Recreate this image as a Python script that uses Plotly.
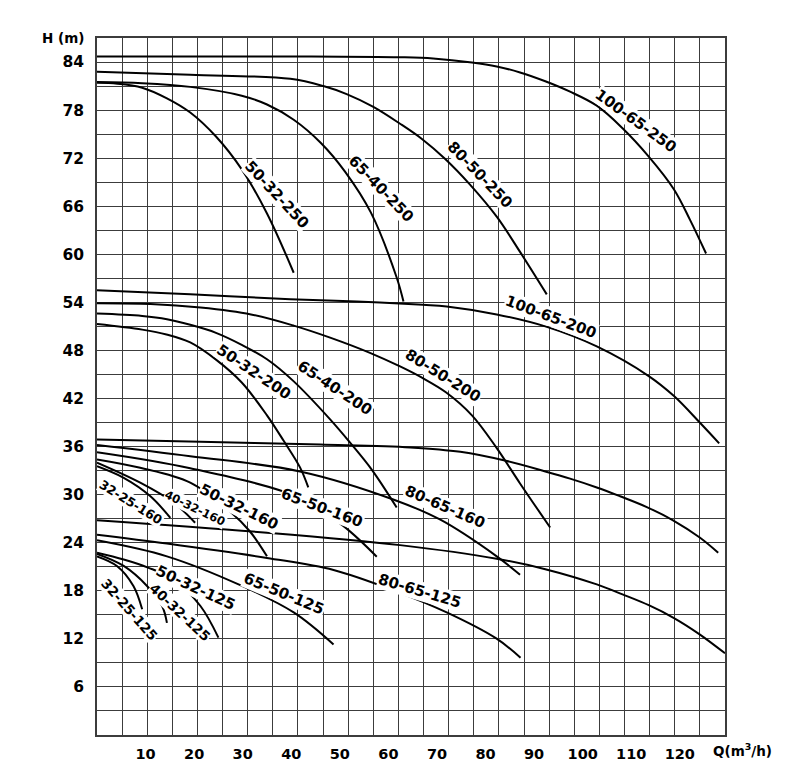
import plotly.graph_objects as go

# ---------------- data (Q in m3/h, H in m) ----------------
q_50_32_250 = [0, 4.2, 9.3, 14.3, 19.2, 24.5, 29.8, 35.0, 40.5]
h_50_32_250 = [81.4, 81.3, 80.8, 79.5, 77.7, 74.7, 70.6, 65.1, 57.7]
q_65_40_250 = [0, 9.3, 19.2, 29.8, 35.0, 40.5, 46.1, 51.1, 56.4, 61.7, 63.1]
h_65_40_250 = [81.5, 81.35, 80.9, 79.8, 78.7, 76.8, 73.9, 70.3, 65.2, 57.1, 54.1]
q_80_50_250 = [0, 19.2, 39.8, 46.6, 51.4, 56.9, 62.4, 66.9, 71.7, 76.8, 82.3, 87.1, 92.6]
h_80_50_250 = [82.8, 82.4, 81.9, 81.0, 80.0, 78.4, 76.3, 74.4, 71.9, 68.7, 64.7, 60.3, 55.0]
q_100_65_250 = [0, 42.0, 62.4, 69.2, 77.2, 82.3, 87.1, 92.3, 97.4, 102.9, 108.1, 113.6, 118.8, 122.1, 125.4]
h_100_65_250 = [84.7, 84.7, 84.6, 84.45, 83.95, 83.45, 82.7, 81.6, 80.3, 78.55, 75.8, 72.2, 68.1, 64.3, 60.1]

q_50_32_200 = [0, 9.3, 14.3, 19.2, 24.5, 29.8, 35.0, 38.4, 41.8, 43.5]
h_50_32_200 = [51.3, 50.6, 50.0, 49.0, 46.85, 44.0, 39.9, 36.75, 33.4, 30.9]
q_65_40_200 = [0, 9.3, 14.4, 19.2, 24.5, 29.8, 35.0, 40.4, 48.0, 52.1, 56.6, 61.7]
h_65_40_200 = [52.6, 52.3, 51.9, 51.2, 50.2, 48.7, 46.9, 44.2, 39.4, 36.5, 33.1, 28.4]
q_80_50_200 = [0, 11.0, 21.3, 31.7, 40.5, 48.0, 56.2, 62.4, 66.9, 71.9, 77.2, 82.2, 87.1, 93.3]
h_80_50_200 = [53.9, 53.8, 53.35, 52.5, 51.1, 49.6, 47.7, 46.0, 44.6, 42.75, 39.9, 35.9, 31.4, 25.9]
q_100_65_200 = [0, 19.2, 39.8, 53.5, 67.1, 72.0, 82.3, 92.3, 102.9, 113.6, 118.8, 124.1, 128.1]
h_100_65_200 = [55.5, 55.0, 54.4, 54.1, 53.7, 53.5, 52.5, 51.0, 48.5, 44.8, 42.3, 39.0, 36.4]

q_32_25_160 = [0, 5.5, 11.0, 15.1]
h_32_25_160 = [33.55, 32.1, 29.8, 27.1]
q_40_32_160 = [0, 8.9, 15.8, 20.2]
h_40_32_160 = [34.0, 31.5, 29.0, 26.5]
q_50_32_160 = [0, 8.9, 19.2, 27.4, 31.5, 35.0]
h_50_32_160 = [34.4, 33.35, 31.5, 27.9, 25.4, 22.3]
q_65_50_160 = [0, 19.2, 41.8, 50.7, 57.6]
h_65_50_160 = [35.3, 33.3, 29.6, 26.1, 22.25]
q_80_65_160 = [0, 19.2, 41.8, 61.0, 70.6, 82.3, 87.1]
h_80_65_160 = [36.2, 34.8, 32.9, 29.4, 26.9, 22.3, 20.0]
q_100_65_160 = [0, 21.3, 46.0, 64.5, 74.8, 84.4, 92.3, 97.4, 102.9, 107.7, 113.2, 118.6, 124.1, 127.9]
h_100_65_160 = [36.9, 36.6, 36.25, 35.9, 35.35, 34.2, 32.9, 32.0, 30.9, 29.8, 28.45, 26.8, 24.65, 22.75]

q_32_25_125 = [0, 4.1, 7.5, 9.3]
h_32_25_125 = [22.3, 21.1, 18.6, 15.7]
q_40_32_125 = [0, 5.5, 10.3, 13.4, 14.4]
h_40_32_125 = [22.6, 21.1, 18.6, 16.1, 14.0]
q_50_32_125 = [0, 5.5, 10.5, 15.8, 21.3, 25.0]
h_50_32_125 = [22.75, 21.9, 20.9, 19.4, 16.1, 12.15]
q_65_50_125 = [0, 14.4, 29.5, 40.5, 48.7]
h_65_50_125 = [24.3, 22.3, 18.7, 15.3, 11.3]
q_80_65_125 = [0, 14.4, 35.0, 48.7, 61.7, 72.0, 82.2, 87.2]
h_80_65_125 = [25.0, 23.9, 22.1, 20.6, 17.9, 15.3, 12.05, 9.65]
q_100_65_125 = [0, 35.0, 62.4, 82.3, 92.3, 102.9, 108.2, 113.6, 118.8, 124.0, 129.3]
h_100_65_125 = [26.8, 25.25, 23.7, 22.0, 20.7, 18.8, 17.55, 16.2, 14.6, 12.6, 10.2]

x_tick_labels = [10, 20, 30, 40, 50, 60, 70, 80, 90, 100, 110, 120]
y_tick_labels = [6, 12, 18, 24, 30, 36, 42, 48, 54, 60, 66, 72, 78, 84]
q_max = 129.3          # right edge of the chart frame
q_grid_cells = 25      # vertical grid cells across the frame

# curve labels: text, Q, H, angle, size
label_text = ["50-32-250", "65-40-250", "80-50-250", "100-65-250",
              "100-65-200", "80-50-200", "65-40-200", "50-32-200",
              "80-65-160", "65-50-160", "50-32-160", "40-32-160", "32-25-160",
              "50-32-125", "40-32-125", "32-25-125", "65-50-125", "80-65-125"]
label_q = [37.1, 58.5, 78.9, 111.0, 93.5, 71.3, 49.0, 32.3,
           71.7, 46.4, 29.3, 20.1, 7.1, 20.4, 17.1, 6.6, 38.6, 66.5]
label_h = [67.4, 68.1, 69.9, 76.7, 52.2, 44.8, 43.3, 45.3,
           28.4, 28.3, 28.4, 28.3, 29.0, 18.4, 15.4, 15.7, 17.6, 18.0]
label_angle = [47, 46, 46, 36, 20.5, 32, 33.5, 34,
               23.5, 20.5, 26, 26, 32, 25, 43, 48.5, 22.5, 16.5]
label_size = [15, 15, 15, 15, 15, 15, 15, 15,
              15, 15, 15, 11.5, 12.5, 15, 13.5, 13.5, 15, 15]

curves = [
    (q_50_32_250, h_50_32_250), (q_65_40_250, h_65_40_250),
    (q_80_50_250, h_80_50_250), (q_100_65_250, h_100_65_250),
    (q_50_32_200, h_50_32_200), (q_65_40_200, h_65_40_200),
    (q_80_50_200, h_80_50_200), (q_100_65_200, h_100_65_200),
    (q_32_25_160, h_32_25_160), (q_40_32_160, h_40_32_160),
    (q_50_32_160, h_50_32_160), (q_65_50_160, h_65_50_160),
    (q_80_65_160, h_80_65_160), (q_100_65_160, h_100_65_160),
    (q_32_25_125, h_32_25_125), (q_40_32_125, h_40_32_125),
    (q_50_32_125, h_50_32_125), (q_65_50_125, h_65_50_125),
    (q_80_65_125, h_80_65_125), (q_100_65_125, h_100_65_125),
]

GRID = "#3c3c3c"
FONT = "DejaVu Sans"

fig = go.Figure()
for q, h in curves:
    fig.add_trace(go.Scatter(
        x=q, y=h, mode="lines",
        line=dict(color="black", width=2, shape="spline", smoothing=1.0),
        hoverinfo="skip", showlegend=False))

for t, q, h, a, s in zip(label_text, label_q, label_h, label_angle, label_size):
    fig.add_annotation(x=q, y=h, xref="x", yref="y", text=t, showarrow=False,
                       textangle=a, font=dict(family=FONT, size=s, color="black", weight="bold"),
                       bgcolor="white", borderpad=0)

fig.add_annotation(xref="paper", yref="paper", x=0, y=1, xanchor="right", yanchor="middle",
                   xshift=-11, text="H (m)", showarrow=False,
                   font=dict(family=FONT, size=13.5, color="black", weight="bold"))
fig.add_annotation(xref="paper", yref="paper", x=1, y=0, xanchor="left", yanchor="middle",
                   xshift=-14, yshift=-15, text="Q(m<sup>3</sup>/h)", showarrow=False,
                   font=dict(family=FONT, size=13.5, color="black", weight="bold"))

fig.update_layout(
    width=800, height=784,
    margin=dict(l=89, r=83, t=30, b=57),
    paper_bgcolor="white", plot_bgcolor="white",
    xaxis=dict(range=[0, q_max], tickmode="array", tickvals=x_tick_labels,
               ticktext=[str(v) for v in x_tick_labels], showgrid=False, zeroline=False,
               showline=True, linecolor=GRID, linewidth=1.5, mirror=True,
               ticks="", ticklabelstandoff=5,
               minor=dict(tickmode="linear", tick0=0, dtick=q_max / q_grid_cells,
                          showgrid=True, gridcolor=GRID, gridwidth=1.3, ticks=""),
               tickfont=dict(family=FONT, size=14.5, color="black", weight="bold")),
    yaxis=dict(range=[0, 87], tickmode="array", tickvals=y_tick_labels,
               ticktext=[str(v) for v in y_tick_labels], showgrid=True,
               gridcolor=GRID, gridwidth=1.3, zeroline=False, showline=True,
               linecolor=GRID, linewidth=1.5, mirror=True, ticks="",
               ticklabelstandoff=8,
               minor=dict(tickmode="linear", tick0=0, dtick=3, showgrid=True,
                          gridcolor=GRID, gridwidth=1.3, ticks=""),
               tickfont=dict(family=FONT, size=15.5, color="black", weight="bold")),
)

fig.write_html("out.html")
